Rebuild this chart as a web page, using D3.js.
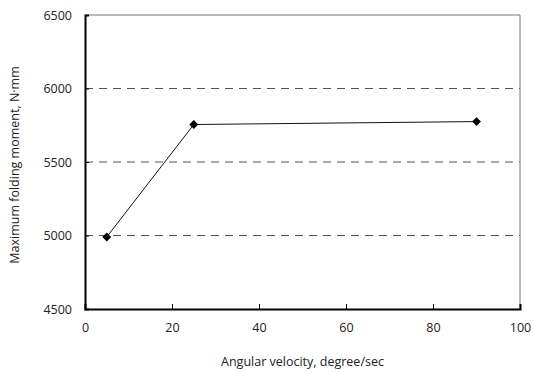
<!DOCTYPE html>
<html>
<head>
<meta charset="utf-8">
<script src="https://d3js.org/d3.v7.min.js"></script>
<style>
  body { margin: 0; background: #fff; }
  text { font-family: "Open Sans", "Noto Sans", sans-serif; fill: #222; }
</style>
</head>
<body>
<div id="chart"></div>
<script>
// data
var velocities = [5, 25, 90];
var moments = [4990, 5755, 5775];
var xTicks = [0, 20, 40, 60, 80, 100];
var yTicks = [4500, 5000, 5500, 6000, 6500];

var width = 534, height = 373;
var margin = { top: 15, left: 85, bottom: 64, right: 14 };

var svg = d3.select("#chart")
    .append("svg")
    .attr("width", width)
    .attr("height", height);

let x = d3.scaleLinear()
    .domain([0, 100])
    .range([margin.left, width - margin.right]);
let y = d3.scaleLinear()
    .domain([4500, 6500])
    .range([height - margin.bottom, margin.top]);

// gridlines
svg.selectAll(".grid")
    .data(yTicks.filter(function (d) { return d > 4500 && d < 6500; }))
    .enter()
    .append("line")
    .attr("class", "grid")
    .attr("x1", x(0))
    .attr("x2", x(100))
    .attr("y1", function (d) { return y(d); })
    .attr("y2", function (d) { return y(d); })
    .attr("stroke", "#555")
    .attr("stroke-width", 1)
    .attr("stroke-dasharray", "8,6");

// top / right frame
svg.append("path")
    .attr("d", "M" + x(0) + "," + y(6500) + "H" + x(100) + "V" + y(4500))
    .attr("fill", "none")
    .attr("stroke", "#777")
    .attr("stroke-width", 1);

// axes
let xAxis = d3.axisBottom(x).tickValues(xTicks).tickSize(-5).tickPadding(14)
    .tickFormat(d3.format("d"));
let gx = svg.append("g")
    .attr("transform", "translate(0," + y(4500) + ")")
    .call(xAxis);
gx.select(".domain").attr("stroke", "#000").attr("stroke-width", 2);
gx.selectAll(".tick line").attr("stroke", "#000");
gx.selectAll(".tick text").attr("font-size", 12.5).attr("fill", "#222");

let yAxis = d3.axisLeft(y).tickValues(yTicks).tickSize(-4).tickPadding(13)
    .tickFormat(d3.format("d"));
let gy = svg.append("g")
    .attr("transform", "translate(" + x(0) + ",0)")
    .call(yAxis);
gy.select(".domain").attr("stroke", "#000").attr("stroke-width", 2);
gy.selectAll(".tick line").attr("stroke", "#000");
gy.selectAll(".tick text").attr("font-size", 12.5).attr("fill", "#222");

// series line
let line = d3.line()
    .x(function (d, i) { return x(velocities[i]); })
    .y(function (d) { return y(d); });
svg.append("path")
    .datum(moments)
    .attr("d", line)
    .attr("fill", "none")
    .attr("stroke", "#111")
    .attr("stroke-width", 1);

// diamond markers
svg.selectAll(".pt")
    .data(moments)
    .enter()
    .append("path")
    .attr("class", "pt")
    .attr("d", d3.symbol().type(d3.symbolDiamond2).size(50))
    .attr("transform", function (d, i) {
        return "translate(" + x(velocities[i]) + "," + y(d) + ")";
    })
    .attr("fill", "#000");

// axis titles
svg.append("text")
    .attr("x", (x(0) + x(100)) / 2)
    .attr("y", 366)
    .attr("text-anchor", "middle")
    .attr("font-size", 12.5)
    .text("Angular velocity, degree/sec");

svg.append("text")
    .attr("transform", "translate(19," + (y(5500) + 3) + ") rotate(-90)")
    .attr("text-anchor", "middle")
    .attr("font-size", 12.5)
    .text("Maximum folding moment, N·mm");
</script>
</body>
</html>
